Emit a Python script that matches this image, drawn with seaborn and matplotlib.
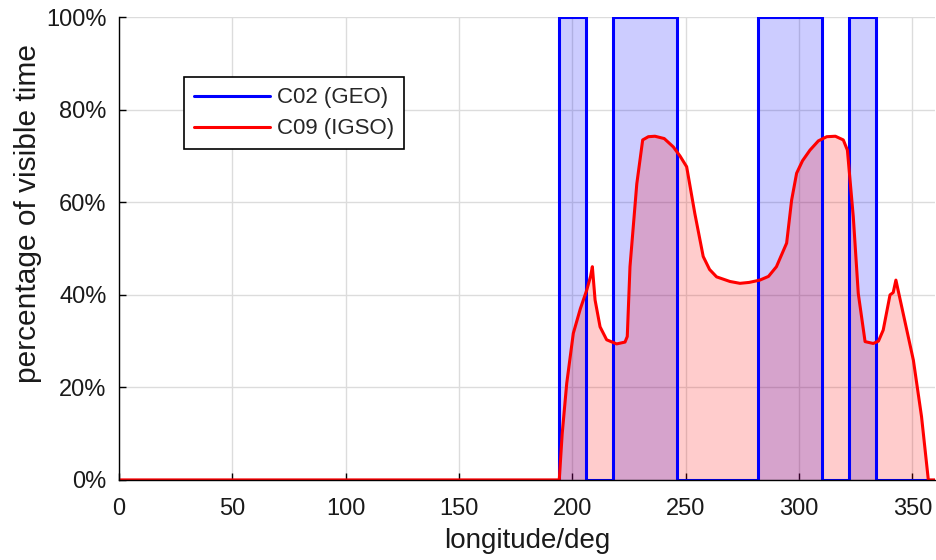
import matplotlib
matplotlib.use("Agg")
import matplotlib.pyplot as plt
import seaborn as sns
import pandas as pd
from matplotlib.ticker import PercentFormatter

# C02 (GEO) visibility: step profile over longitude
geo_lon = [0, 194, 194, 206, 206, 218, 218, 246, 246, 282, 282, 310, 310, 322, 322, 334, 334, 360]
geo_pct = [0, 0, 1, 1, 0, 0, 1, 1, 0, 0, 1, 1, 0, 0, 1, 1, 0, 0]

# C09 (IGSO) visibility over longitude
igso_lon = [0, 194.2, 195.5, 197.5, 200.4, 203.5, 206.3, 208.0, 208.8, 210.0, 212.2, 215.1,
            219.5, 223.2, 224.2, 225.4, 228.4, 231.0, 233.5, 236.4, 240.5, 244.5, 247.5,
            250.4, 254.0, 257.7, 260.5, 263.6, 269.5, 273.9, 278.0, 282.7, 286.5, 290.0,
            294.5, 296.7, 298.9, 301.5, 304.8, 308.5, 312.2, 316.0, 319.5, 321.3, 323.9,
            326.1, 329.1, 332.7, 335.0, 337.1, 340.1, 341.5, 342.7, 345.9, 350.4, 354.0,
            357.0, 360]
igso_pct = [0, 0, 0.10, 0.209, 0.317, 0.37, 0.41, 0.44, 0.461, 0.389, 0.331, 0.303,
            0.294, 0.298, 0.31, 0.461, 0.64, 0.735, 0.742, 0.743, 0.738, 0.72, 0.70,
            0.677, 0.576, 0.483, 0.455, 0.439, 0.429, 0.425, 0.427, 0.432, 0.44, 0.461,
            0.512, 0.605, 0.663, 0.69, 0.713, 0.733, 0.742, 0.743, 0.735, 0.713, 0.569,
            0.403, 0.299, 0.295, 0.30, 0.324, 0.40, 0.405, 0.432, 0.36, 0.259, 0.137,
            0, 0]

geo = pd.DataFrame({"lon": geo_lon, "pct": geo_pct})
igso = pd.DataFrame({"lon": igso_lon, "pct": igso_pct})

sns.set_style("whitegrid")
plt.rcParams["font.family"] = ["Liberation Sans", "DejaVu Sans"]

fig = plt.figure(figsize=(9.37, 5.6), dpi=100)
ax = fig.add_axes([0.127, 0.143, 0.871, 0.826])

ax.fill_between(geo["lon"], geo["pct"], 0, color="#0000ff", alpha=0.2, linewidth=0)
ax.fill_between(igso["lon"], igso["pct"], 0, color="#ff0000", alpha=0.2, linewidth=0)

sns.lineplot(data=geo, x="lon", y="pct", sort=False, estimator=None, color="#0000ff",
             linewidth=2.2, label="C02 (GEO)", ax=ax)
sns.lineplot(data=igso, x="lon", y="pct", sort=False, estimator=None, color="#ff0000",
             linewidth=2.2, label="C09 (IGSO)", ax=ax)

ax.set_xlim(0, 360)
ax.set_ylim(0, 1)
ax.set_xticks(range(0, 351, 50))
ax.set_yticks([0, 0.2, 0.4, 0.6, 0.8, 1.0])
ax.yaxis.set_major_formatter(PercentFormatter(xmax=1, decimals=0))
ax.grid(True, color="#dcdcdc", linewidth=1.0)

for side in ("top", "right"):
    ax.spines[side].set_visible(False)
for side in ("left", "bottom"):
    ax.spines[side].set_visible(True)
    ax.spines[side].set_color("black")
    ax.spines[side].set_linewidth(1.0)

ax.tick_params(axis="both", direction="in", length=5, width=1, color="black",
               labelsize=17, labelcolor="#1a1a1a")
ax.tick_params(axis="x", bottom=True, pad=13)
ax.tick_params(axis="y", left=True, pad=9)

ax.set_xlabel("longitude/deg", fontsize=20, color="#1a1a1a", labelpad=6)
ax.set_ylabel("percentage of visible time", fontsize=21.5, color="#1a1a1a")
ax.yaxis.set_label_coords(-0.094, 0.575)

leg = ax.legend(loc="upper left", bbox_to_anchor=(0.080, 0.870), fontsize=16,
                frameon=True, fancybox=False, edgecolor="black", framealpha=1,
                handlelength=3.4, handletextpad=0.3, borderpad=0.45, labelspacing=0.45,
                borderaxespad=0)
leg.get_frame().set_linewidth(1.2)

fig.savefig("out.png", dpi=100)
